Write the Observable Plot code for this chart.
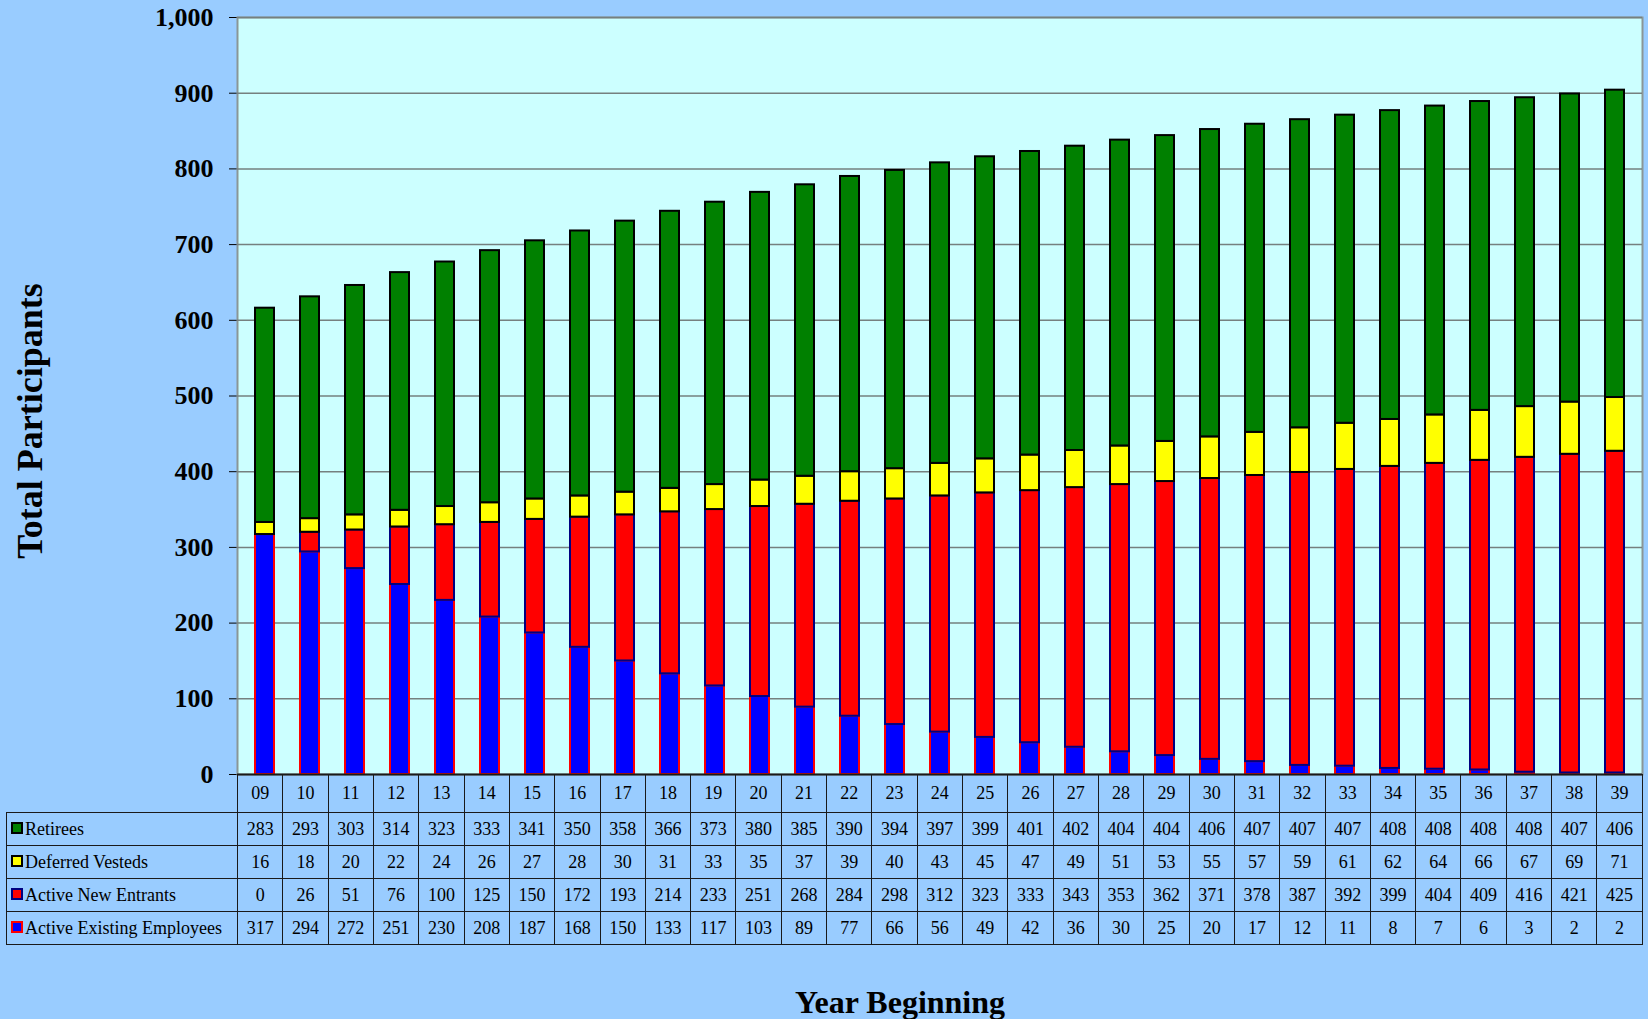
<!DOCTYPE html>
<html><head><meta charset="utf-8">
<script src="https://cdn.jsdelivr.net/npm/d3@7"></script>
<script src="https://cdn.jsdelivr.net/npm/@observablehq/plot@0.6"></script>
<style>
html,body{margin:0;padding:0;background:#99CCFF;}
#wrap{position:relative;width:1648px;height:1019px;overflow:hidden;font-family:"Liberation Serif","Times New Roman",serif;color:#000;}
#chart{position:absolute;left:0;top:0;}
#tbl{position:absolute;left:6px;top:774px;border-collapse:collapse;table-layout:fixed;width:1636px;font-size:18px;}
#tbl td{border:1.3px solid #1a1a1a;text-align:center;padding:0;height:32px;white-space:nowrap;overflow:hidden;}
#tbl tr.hdr td{height:37px;}
#tbl tr.hdr td.blank{border-left:none;border-top:none;}
#tbl td.lab{text-align:left;padding-left:4px;}
.key{display:inline-block;width:8px;height:8px;border:2px solid;margin-right:2px;vertical-align:1px;}
#xtitle{position:absolute;left:650px;width:500px;top:984px;text-align:center;font-size:32px;font-weight:bold;line-height:36px;}
</style></head>
<body><div id="wrap"><div id="chart"></div><table id="tbl"></table><div id="xtitle">Year Beginning</div></div>
<script>
const years = ["09","10","11","12","13","14","15","16","17","18","19","20","21","22","23","24","25","26","27","28","29","30","31","32","33","34","35","36","37","38","39"];
const retirees = [283,293,303,314,323,333,341,350,358,366,373,380,385,390,394,397,399,401,402,404,404,406,407,407,407,408,408,408,408,407,406];
const deferredVesteds = [16,18,20,22,24,26,27,28,30,31,33,35,37,39,40,43,45,47,49,51,53,55,57,59,61,62,64,66,67,69,71];
const activeNewEntrants = [0,26,51,76,100,125,150,172,193,214,233,251,268,284,298,312,323,333,343,353,362,371,378,387,392,399,404,409,416,421,425];
const activeExisting = [317,294,272,251,230,208,187,168,150,133,117,103,89,77,66,56,49,42,36,30,25,20,17,12,11,8,7,6,3,2,2];
const yTicks = [0,100,200,300,400,500,600,700,800,900,1000];

const rows = years.map((year, i) => ({
  year,
  existing: activeExisting[i],
  newEnt: activeNewEntrants[i],
  deferred: deferredVesteds[i],
  retirees: retirees[i]
}));

const styles = {
  retirees: {fill: "#008000", stroke: "#000000"},
  deferred: {fill: "#FFFF00", stroke: "#000000"},
  newEnt: {fill: "#FF0000", stroke: "#000080"},
  existing: {fill: "#0000FF", stroke: "#FF0000"}
};

const plot = Plot.plot({
  width: 1648, height: 800,
  marginLeft: 237, marginRight: 6, marginTop: 17, marginBottom: 26,
  style: {background: "transparent", fontFamily: "Liberation Serif, Times New Roman, serif", fontSize: "26px", fontWeight: "bold", color: "#000"},
  x: {domain: years, paddingInner: 0.58, paddingOuter: 0.29, axis: null},
  y: {domain: [0, 1000], ticks: yTicks, tickSize: 8, tickPadding: 16, tickFormat: d3.format(","), label: null, line: true},
  marks: [
    Plot.frame({fill: "#CCFFFF", stroke: "#8a9696", strokeWidth: 2}),
    Plot.ruleY(yTicks.slice(1), {stroke: "#75807f", strokeWidth: 1.5}),
    Plot.barY(rows, {x: "year", y1: d => 0, y2: d => d.existing, ...styles.existing, strokeWidth: 2}),
    Plot.barY(rows, {x: "year", y1: d => d.existing, y2: d => d.existing + d.newEnt, ...styles.newEnt, strokeWidth: 2}),
    Plot.barY(rows, {x: "year", y1: d => d.existing + d.newEnt, y2: d => d.existing + d.newEnt + d.deferred, ...styles.deferred, strokeWidth: 2}),
    Plot.barY(rows, {x: "year", y1: d => d.existing + d.newEnt + d.deferred, y2: d => d.existing + d.newEnt + d.deferred + d.retirees, ...styles.retirees, strokeWidth: 2}),
    Plot.ruleY([0], {stroke: "#222", strokeWidth: 2}),
    Plot.text(["Total Participants"], {text: d => d, frameAnchor: "left", textAnchor: "middle", dx: -207, dy: 25, rotate: -90, fontSize: 36, fontWeight: "bold"})
  ]
});
document.getElementById("chart").appendChild(plot);

// data table
const tbl = document.getElementById("tbl");
const colg = document.createElement("colgroup");
let c0 = document.createElement("col"); c0.style.width = "231px"; colg.appendChild(c0);
years.forEach(() => { const c = document.createElement("col"); c.style.width = (1405 / years.length) + "px"; colg.appendChild(c); });
tbl.appendChild(colg);
const hdr = document.createElement("tr"); hdr.className = "hdr";
const blank = document.createElement("td"); blank.className = "blank"; hdr.appendChild(blank);
years.forEach(y => { const td = document.createElement("td"); td.textContent = y; hdr.appendChild(td); });
tbl.appendChild(hdr);
const tableRows = [
  ["Retirees", retirees, styles.retirees],
  ["Deferred Vesteds", deferredVesteds, styles.deferred],
  ["Active New Entrants", activeNewEntrants, styles.newEnt],
  ["Active Existing Employees", activeExisting, styles.existing]
];
tableRows.forEach(([name, vals, st]) => {
  const tr = document.createElement("tr");
  const lab = document.createElement("td"); lab.className = "lab";
  const key = document.createElement("span"); key.className = "key";
  key.style.background = st.fill; key.style.borderColor = st.stroke;
  lab.appendChild(key); lab.appendChild(document.createTextNode(name));
  tr.appendChild(lab);
  vals.forEach(v => { const td = document.createElement("td"); td.textContent = v; tr.appendChild(td); });
  tbl.appendChild(tr);
});
</script>
</body></html>
